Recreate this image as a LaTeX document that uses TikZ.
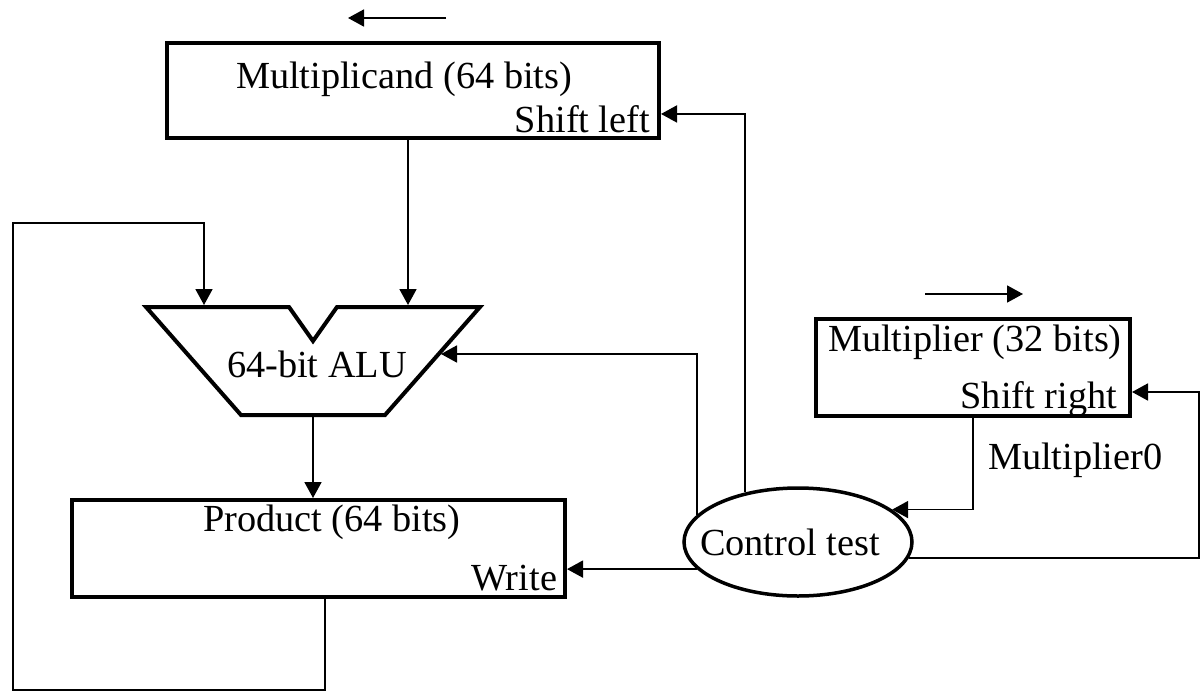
\documentclass[tikz,border=0pt]{standalone}
\usepackage{fontspec}
\setmainfont{Liberation Serif}
\usetikzlibrary{arrows.meta,shapes.geometric,calc}
\begin{document}
\begin{tikzpicture}[x=1pt,y=-1pt,
  wire/.style={line width=1.8pt},
  arr/.style={wire,-{Triangle[length=16pt,width=17pt]}},
  reg/.style={draw,line width=4pt,rectangle,inner sep=0pt},
  lbl/.style={font=\fontsize{38.3}{44}\selectfont,inner sep=0pt,outer sep=0pt}]
\useasboundingbox (0,0) rectangle (1202,691);

% registers
\node[reg,minimum width=492pt,minimum height=95pt] (mcand) at (413,90.5) {};
\node[reg,minimum width=314pt,minimum height=97pt] (mplier) at (973,367.5) {};
\node[reg,minimum width=493pt,minimum height=97pt] (prod) at (318.5,548.5) {};
\node[draw,ellipse,line width=3.5pt,minimum width=228pt,minimum height=108pt,inner sep=0pt] (ctrl) at (798,542) {};

% ALU shape
\draw[line width=4pt,line join=miter] (146,307) -- (289,307) -- (313,341) -- (337,307) -- (480,307) -- (385,415) -- (241,415) -- cycle;

% labels
\node[lbl,anchor=base west] (tmcand) at (236,88) {Multiplicand (64 bits)};
\node[lbl,anchor=base east] (tsl) at (650,132) {Shift left};
\node[lbl,anchor=base west] (talu) at (227,377) {64-bit ALU};
\node[lbl,anchor=base west] (tprod) at (203,531) {Product (64 bits)};
\node[lbl,anchor=base east] (twrite) at (557,590) {Write};
\node[lbl,anchor=base west] (tmplier) at (828,351) {Multiplier (32 bits)};
\node[lbl,anchor=base east] (tsr) at (1117,408) {Shift right};
\node[lbl,anchor=base west] (tm0) at (988,469) {Multiplier0};
\node[lbl,anchor=base west] (tctrl) at (700,555) {Control test};

% coordinates
\coordinate (la0) at (446,18);
\coordinate (la1) at (348,18);
\coordinate (ra0) at (925,294);
\coordinate (ra1) at (1023,294);
\coordinate (aluInL) at (204,305);
\coordinate (aluInR) at (408,305);
\coordinate (aluInC) at (441,354);
\coordinate (aluOut) at (313,415);
\coordinate (loopB) at (13,690);
\coordinate (loopT) at (13,223);
\coordinate (loopR) at (1199,392);

% direction arrows
\draw[arr] (la0) -- (la1);
\draw[arr] (ra0) -- (ra1);

% connectors
\draw[arr] (mcand.south -| aluInR) -- (aluInR);
\draw[arr] (aluOut) -- (prod.north -| aluOut);
\draw[arr] ($(prod.south)+(6.5,0)$) |- (loopB) -- (loopT) -| (aluInL);
\draw[arr] (ctrl.165) |- (aluInC);
\draw[arr] (ctrl.137.4) |- ($(mcand.south east)!0.263!(mcand.north east)$);
\draw[arr] (ctrl.195.8) -- (prod.east |- ctrl.195.8);
\draw[arr] (mplier.south) |- (ctrl.19.7);
\draw[arr] (ctrl.-8.3) -| (loopR) -- (mplier.east |- loopR);
\end{tikzpicture}
\end{document}
